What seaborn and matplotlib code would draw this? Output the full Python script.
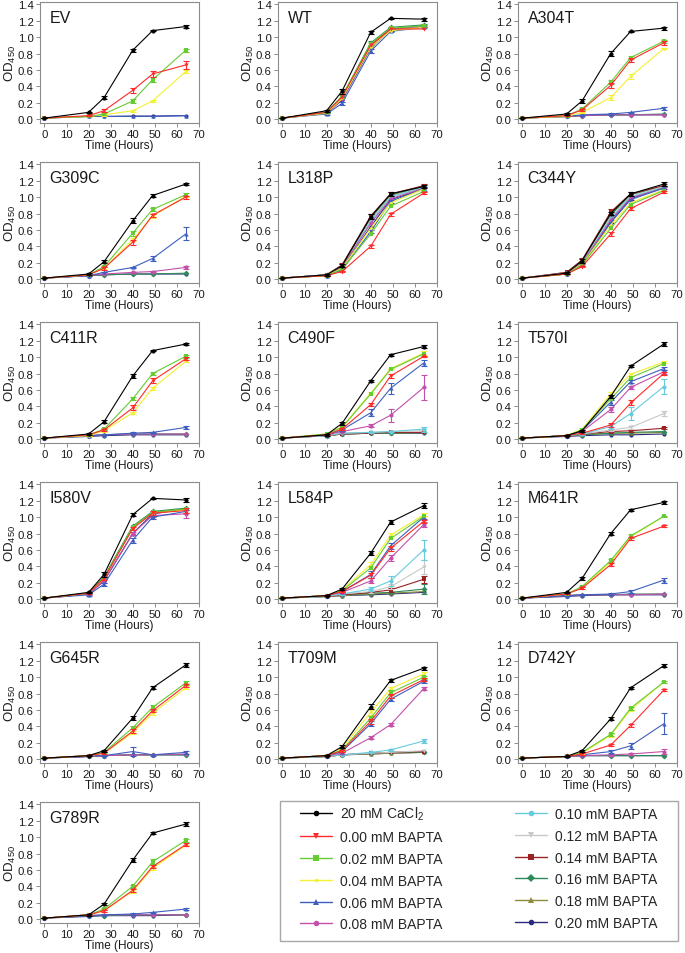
import matplotlib
matplotlib.use("Agg")
import matplotlib.pyplot as plt
from matplotlib.lines import Line2D
from matplotlib.patches import Rectangle
import pandas as pd
import seaborn as sns

# ---------------- data ----------------
time_h = [0, 20, 27, 40, 49, 64]

series_keys = ["Ca", "B00", "B02", "B04", "B06", "B08", "B10", "B12", "B14", "B16", "B18", "B20"]
series_labels = ["20 mM CaCl$_2$", "0.00 mM BAPTA", "0.02 mM BAPTA", "0.04 mM BAPTA",
                 "0.06 mM BAPTA", "0.08 mM BAPTA", "0.10 mM BAPTA", "0.12 mM BAPTA",
                 "0.14 mM BAPTA", "0.16 mM BAPTA", "0.18 mM BAPTA", "0.20 mM BAPTA"]
series_colors = ["#000000", "#ff2b2b", "#66cc33", "#f4f032", "#3f5fc0", "#c350aa",
                 "#66ccdd", "#c8c8c8", "#9b2323", "#2e8b57", "#8c8c3a", "#2a2a80"]
series_markers = ["o", "v", "s", ".", "^", "o", "o", "v", "s", "D", "^", "o"]

EV = {"Ca": [0.01, 0.08, 0.26, 0.84, 1.08, 1.13],
      "B00": [0.01, 0.04, 0.10, 0.35, 0.55, 0.66],
      "B02": [0.01, 0.03, 0.06, 0.22, 0.48, 0.84],
      "B04": [0.01, 0.03, 0.05, 0.10, 0.22, 0.58],
      "B06": [0.01, 0.03, 0.03, 0.03, 0.03, 0.04],
      "B20": [0.01, 0.03, 0.03, 0.035, 0.035, 0.04]}
EV_err = {"Ca": [0, 0.01, 0.02, 0.02, 0.01, 0.02], "B00": [0, 0.01, 0.02, 0.03, 0.04, 0.05],
          "B02": [0, 0, 0.01, 0.02, 0.03, 0.02], "B04": [0, 0, 0.01, 0.01, 0.01, 0.02]}

WT = {"Ca": [0.01, 0.10, 0.34, 1.06, 1.23, 1.22],
      "B00": [0.01, 0.08, 0.27, 0.90, 1.10, 1.10],
      "B02": [0.01, 0.08, 0.28, 0.92, 1.11, 1.14],
      "B04": [0.01, 0.07, 0.25, 0.88, 1.08, 1.12],
      "B06": [0.01, 0.06, 0.19, 0.83, 1.07, 1.12],
      "B08": [0.01, 0.07, 0.24, 0.89, 1.09, 1.13],
      "B16": [0.01, 0.08, 0.27, 0.93, 1.12, 1.15],
      "B18": [0.01, 0.08, 0.26, 0.91, 1.10, 1.14],
      "B20": [0.01, 0.07, 0.23, 0.87, 1.09, 1.13]}
WT_err = {"Ca": [0, 0.01, 0.03, 0.02, 0.01, 0.02], "B06": [0, 0.01, 0.02, 0.02, 0.01, 0.01],
          "B16": [0, 0.01, 0.02, 0.02, 0.01, 0.01], "B02": [0, 0.01, 0.02, 0.02, 0.01, 0.01]}

A304T = {"Ca": [0.01, 0.06, 0.22, 0.80, 1.07, 1.11],
         "B00": [0.01, 0.04, 0.11, 0.41, 0.72, 0.93],
         "B02": [0.01, 0.04, 0.12, 0.45, 0.75, 0.95],
         "B04": [0.01, 0.03, 0.08, 0.26, 0.52, 0.86],
         "B06": [0.01, 0.03, 0.05, 0.06, 0.08, 0.13],
         "B08": [0.01, 0.03, 0.04, 0.05, 0.05, 0.05],
         "B16": [0.01, 0.03, 0.04, 0.05, 0.05, 0.06],
         "B20": [0.01, 0.03, 0.04, 0.05, 0.05, 0.05]}
A304T_err = {"Ca": [0, 0.01, 0.02, 0.03, 0.01, 0.02], "B00": [0, 0, 0.01, 0.03, 0.02, 0.02],
             "B02": [0, 0, 0.01, 0.02, 0.02, 0.02], "B04": [0, 0, 0.01, 0.03, 0.03, 0.01],
             "B06": [0, 0, 0, 0.01, 0.01, 0.02]}

G309C = {"Ca": [0.01, 0.06, 0.21, 0.71, 1.02, 1.16],
         "B00": [0.01, 0.05, 0.13, 0.45, 0.78, 1.00],
         "B02": [0.01, 0.05, 0.15, 0.56, 0.85, 1.03],
         "B04": [0.01, 0.05, 0.13, 0.48, 0.77, 1.01],
         "B06": [0.01, 0.04, 0.08, 0.14, 0.25, 0.55],
         "B08": [0.01, 0.04, 0.06, 0.08, 0.09, 0.14],
         "B16": [0.01, 0.04, 0.05, 0.06, 0.06, 0.07],
         "B20": [0.01, 0.04, 0.05, 0.06, 0.06, 0.06]}
G309C_err = {"Ca": [0, 0.01, 0.02, 0.03, 0.02, 0.01], "B00": [0, 0, 0.02, 0.03, 0.02, 0.02],
             "B02": [0, 0, 0.01, 0.03, 0.02, 0.02], "B04": [0, 0, 0.01, 0.02, 0.02, 0.01],
             "B06": [0, 0, 0, 0.01, 0.03, 0.08], "B08": [0, 0, 0, 0.01, 0.01, 0.02]}

L318P = {"Ca": [0.01, 0.05, 0.16, 0.76, 1.04, 1.13],
         "B00": [0.01, 0.04, 0.09, 0.40, 0.79, 1.05],
         "B02": [0.01, 0.04, 0.12, 0.55, 0.89, 1.07],
         "B04": [0.01, 0.04, 0.13, 0.62, 0.93, 1.10],
         "B06": [0.01, 0.04, 0.11, 0.58, 0.95, 1.10],
         "B08": [0.01, 0.05, 0.14, 0.68, 0.98, 1.11],
         "B10": [0.01, 0.05, 0.15, 0.70, 1.00, 1.12],
         "B12": [0.01, 0.05, 0.15, 0.72, 1.01, 1.12],
         "B14": [0.01, 0.05, 0.17, 0.77, 1.04, 1.14],
         "B16": [0.01, 0.05, 0.16, 0.74, 1.02, 1.13],
         "B18": [0.01, 0.05, 0.17, 0.76, 1.03, 1.14],
         "B20": [0.01, 0.04, 0.13, 0.64, 0.97, 1.10]}
L318P_err = {"Ca": [0, 0.01, 0.02, 0.03, 0.02, 0.02], "B00": [0, 0, 0.01, 0.02, 0.02, 0.01],
             "B06": [0, 0, 0.01, 0.02, 0.02, 0.02], "B14": [0, 0, 0.02, 0.03, 0.02, 0.02]}

C344Y = {"Ca": [0.01, 0.07, 0.22, 0.80, 1.04, 1.16],
         "B00": [0.01, 0.06, 0.15, 0.55, 0.86, 1.06],
         "B02": [0.01, 0.06, 0.17, 0.62, 0.91, 1.08],
         "B04": [0.01, 0.06, 0.18, 0.66, 0.93, 1.09],
         "B06": [0.01, 0.06, 0.17, 0.69, 0.97, 1.11],
         "B08": [0.01, 0.07, 0.19, 0.72, 0.99, 1.11],
         "B10": [0.01, 0.07, 0.20, 0.74, 1.00, 1.12],
         "B12": [0.01, 0.07, 0.21, 0.76, 1.01, 1.13],
         "B14": [0.01, 0.08, 0.23, 0.82, 1.04, 1.14],
         "B16": [0.01, 0.07, 0.22, 0.78, 1.03, 1.13],
         "B18": [0.01, 0.08, 0.23, 0.80, 1.04, 1.14],
         "B20": [0.01, 0.06, 0.17, 0.70, 0.98, 1.12]}
C344Y_err = {"Ca": [0, 0.01, 0.02, 0.02, 0.02, 0.02], "B00": [0, 0, 0.01, 0.02, 0.02, 0.01],
             "B14": [0, 0, 0.02, 0.03, 0.02, 0.02], "B20": [0, 0, 0.01, 0.02, 0.02, 0.02]}

C411R = {"Ca": [0.01, 0.06, 0.21, 0.77, 1.08, 1.16],
         "B00": [0.01, 0.05, 0.11, 0.38, 0.71, 0.98],
         "B02": [0.01, 0.05, 0.12, 0.49, 0.80, 1.01],
         "B04": [0.01, 0.04, 0.10, 0.32, 0.62, 0.95],
         "B06": [0.01, 0.04, 0.05, 0.07, 0.08, 0.14],
         "B08": [0.01, 0.04, 0.05, 0.06, 0.06, 0.06],
         "B16": [0.01, 0.04, 0.05, 0.06, 0.06, 0.06],
         "B20": [0.01, 0.03, 0.04, 0.05, 0.05, 0.05]}
C411R_err = {"Ca": [0, 0.01, 0.02, 0.03, 0.01, 0.01], "B00": [0, 0, 0.01, 0.03, 0.03, 0.02],
             "B02": [0, 0, 0.01, 0.02, 0.02, 0.02], "B04": [0, 0, 0.01, 0.01, 0.02, 0.01],
             "B06": [0, 0, 0, 0.01, 0.01, 0.02]}

C490F = {"Ca": [0.01, 0.05, 0.19, 0.71, 1.03, 1.13],
         "B00": [0.01, 0.05, 0.12, 0.42, 0.77, 1.01],
         "B02": [0.01, 0.06, 0.14, 0.55, 0.85, 1.04],
         "B04": [0.01, 0.06, 0.15, 0.56, 0.86, 1.05],
         "B06": [0.01, 0.05, 0.11, 0.32, 0.62, 0.93],
         "B08": [0.01, 0.05, 0.09, 0.16, 0.29, 0.63],
         "B10": [0.01, 0.04, 0.07, 0.08, 0.09, 0.12],
         "B12": [0.01, 0.04, 0.07, 0.08, 0.09, 0.10],
         "B14": [0.01, 0.04, 0.06, 0.07, 0.08, 0.08],
         "B16": [0.01, 0.04, 0.06, 0.07, 0.07, 0.08],
         "B18": [0.01, 0.04, 0.06, 0.07, 0.07, 0.08],
         "B20": [0.01, 0.04, 0.06, 0.07, 0.07, 0.07]}
C490F_err = {"Ca": [0, 0.01, 0.02, 0.01, 0.01, 0.02], "B00": [0, 0, 0.01, 0.02, 0.02, 0.01],
             "B04": [0, 0, 0.01, 0.01, 0.01, 0.02], "B06": [0, 0, 0.01, 0.04, 0.07, 0.04],
             "B08": [0, 0, 0.01, 0.02, 0.08, 0.15], "B10": [0, 0, 0, 0.01, 0.01, 0.03]}

T570I = {"Ca": [0.01, 0.04, 0.10, 0.52, 0.89, 1.16],
         "B00": [0.01, 0.04, 0.07, 0.17, 0.44, 0.80],
         "B02": [0.01, 0.04, 0.11, 0.49, 0.75, 0.92],
         "B04": [0.01, 0.04, 0.12, 0.55, 0.79, 0.94],
         "B06": [0.01, 0.04, 0.10, 0.45, 0.70, 0.86],
         "B08": [0.01, 0.04, 0.09, 0.36, 0.63, 0.82],
         "B10": [0.01, 0.04, 0.06, 0.15, 0.31, 0.64],
         "B12": [0.01, 0.04, 0.06, 0.11, 0.14, 0.31],
         "B14": [0.01, 0.04, 0.06, 0.09, 0.10, 0.13],
         "B16": [0.01, 0.04, 0.05, 0.07, 0.08, 0.09],
         "B18": [0.01, 0.04, 0.05, 0.07, 0.07, 0.08],
         "B20": [0.01, 0.03, 0.04, 0.05, 0.05, 0.06]}
T570I_err = {"Ca": [0, 0.01, 0.01, 0.02, 0.01, 0.02], "B00": [0, 0, 0.01, 0.02, 0.03, 0.02],
             "B04": [0, 0, 0.01, 0.02, 0.02, 0.01], "B06": [0, 0, 0.01, 0.03, 0.02, 0.02],
             "B08": [0, 0, 0.01, 0.03, 0.02, 0.02], "B10": [0, 0, 0.01, 0.03, 0.08, 0.09],
             "B12": [0, 0, 0, 0.01, 0.02, 0.03], "B14": [0, 0, 0, 0.01, 0.01, 0.01]}

I580V = {"Ca": [0.01, 0.08, 0.30, 1.03, 1.23, 1.21],
         "B00": [0.01, 0.07, 0.25, 0.86, 1.05, 1.08],
         "B02": [0.01, 0.07, 0.26, 0.88, 1.06, 1.10],
         "B04": [0.01, 0.07, 0.25, 0.87, 1.05, 1.09],
         "B06": [0.01, 0.05, 0.18, 0.72, 1.00, 1.07],
         "B08": [0.01, 0.06, 0.22, 0.80, 1.02, 1.04],
         "B16": [0.01, 0.07, 0.27, 0.89, 1.07, 1.11],
         "B18": [0.01, 0.07, 0.26, 0.88, 1.06, 1.10],
         "B20": [0.01, 0.06, 0.22, 0.80, 1.04, 1.10]}
I580V_err = {"Ca": [0, 0.01, 0.03, 0.02, 0.01, 0.03], "B06": [0, 0.01, 0.02, 0.03, 0.02, 0.02],
             "B08": [0, 0.01, 0.02, 0.02, 0.02, 0.05], "B00": [0, 0.01, 0.02, 0.02, 0.02, 0.03]}

L584P = {"Ca": [0.01, 0.04, 0.12, 0.56, 0.94, 1.14],
         "B00": [0.01, 0.04, 0.09, 0.29, 0.62, 0.95],
         "B02": [0.01, 0.04, 0.10, 0.38, 0.74, 1.01],
         "B04": [0.01, 0.04, 0.11, 0.42, 0.78, 1.03],
         "B06": [0.01, 0.04, 0.09, 0.30, 0.65, 1.00],
         "B08": [0.01, 0.04, 0.08, 0.22, 0.50, 0.91],
         "B10": [0.01, 0.03, 0.06, 0.12, 0.22, 0.60],
         "B12": [0.01, 0.03, 0.06, 0.09, 0.15, 0.39],
         "B14": [0.01, 0.03, 0.05, 0.08, 0.11, 0.24],
         "B16": [0.01, 0.03, 0.05, 0.07, 0.08, 0.12],
         "B18": [0.01, 0.03, 0.04, 0.06, 0.07, 0.09],
         "B20": [0.01, 0.03, 0.04, 0.05, 0.06, 0.08]}
L584P_err = {"Ca": [0, 0.01, 0.01, 0.02, 0.02, 0.03], "B00": [0, 0, 0.01, 0.03, 0.03, 0.02],
             "B04": [0, 0, 0.01, 0.03, 0.03, 0.02], "B06": [0, 0, 0.01, 0.04, 0.04, 0.02],
             "B08": [0, 0, 0.01, 0.03, 0.04, 0.03], "B10": [0, 0, 0.01, 0.02, 0.06, 0.12],
             "B12": [0, 0, 0.01, 0.02, 0.03, 0.08], "B14": [0, 0, 0, 0.01, 0.02, 0.04],
             "B16": [0, 0, 0, 0.01, 0.01, 0.06]}

M641R = {"Ca": [0.01, 0.08, 0.25, 0.80, 1.09, 1.18],
         "B00": [0.01, 0.06, 0.13, 0.42, 0.74, 0.89],
         "B02": [0.01, 0.06, 0.15, 0.47, 0.77, 1.01],
         "B04": [0.01, 0.06, 0.14, 0.45, 0.76, 1.01],
         "B06": [0.01, 0.04, 0.05, 0.06, 0.09, 0.23],
         "B08": [0.01, 0.04, 0.05, 0.05, 0.05, 0.06],
         "B16": [0.01, 0.04, 0.05, 0.05, 0.06, 0.06],
         "B20": [0.01, 0.03, 0.04, 0.05, 0.05, 0.05]}
M641R_err = {"Ca": [0, 0.01, 0.02, 0.02, 0.01, 0.02], "B00": [0, 0, 0.01, 0.02, 0.02, 0.01],
             "B02": [0, 0, 0.01, 0.02, 0.02, 0.01], "B06": [0, 0, 0, 0.01, 0.02, 0.03]}

G645R = {"Ca": [0.01, 0.04, 0.10, 0.50, 0.87, 1.15],
         "B00": [0.01, 0.04, 0.07, 0.34, 0.59, 0.90],
         "B02": [0.01, 0.04, 0.08, 0.38, 0.63, 0.93],
         "B04": [0.01, 0.04, 0.07, 0.32, 0.56, 0.87],
         "B06": [0.01, 0.03, 0.04, 0.09, 0.05, 0.08],
         "B08": [0.01, 0.03, 0.04, 0.05, 0.05, 0.06],
         "B16": [0.01, 0.03, 0.04, 0.05, 0.05, 0.05],
         "B20": [0.01, 0.03, 0.04, 0.05, 0.05, 0.05]}
G645R_err = {"Ca": [0, 0.01, 0.01, 0.02, 0.02, 0.02], "B00": [0, 0, 0.01, 0.02, 0.02, 0.02],
             "B02": [0, 0, 0.01, 0.02, 0.03, 0.02], "B04": [0, 0, 0.01, 0.02, 0.02, 0.02],
             "B06": [0, 0, 0, 0.05, 0.01, 0.02]}

T709M = {"Ca": [0.01, 0.04, 0.15, 0.64, 0.96, 1.11],
         "B00": [0.01, 0.04, 0.10, 0.46, 0.77, 0.97],
         "B02": [0.01, 0.04, 0.11, 0.50, 0.81, 1.00],
         "B04": [0.01, 0.04, 0.13, 0.57, 0.86, 1.04],
         "B06": [0.01, 0.04, 0.09, 0.43, 0.73, 0.95],
         "B08": [0.01, 0.04, 0.07, 0.26, 0.42, 0.86],
         "B10": [0.01, 0.03, 0.05, 0.08, 0.11, 0.22],
         "B12": [0.01, 0.03, 0.05, 0.07, 0.08, 0.10],
         "B14": [0.01, 0.03, 0.05, 0.07, 0.08, 0.09],
         "B16": [0.01, 0.03, 0.05, 0.07, 0.08, 0.08],
         "B18": [0.01, 0.03, 0.05, 0.06, 0.07, 0.08],
         "B20": [0.01, 0.03, 0.05, 0.06, 0.07, 0.08]}
T709M_err = {"Ca": [0, 0.01, 0.02, 0.03, 0.02, 0.02], "B00": [0, 0, 0.01, 0.03, 0.03, 0.02],
             "B02": [0, 0, 0.01, 0.03, 0.03, 0.02], "B04": [0, 0, 0.01, 0.03, 0.02, 0.02],
             "B06": [0, 0, 0.01, 0.03, 0.02, 0.02], "B08": [0, 0, 0.01, 0.02, 0.02, 0.02],
             "B10": [0, 0, 0, 0.01, 0.01, 0.02]}

D742Y = {"Ca": [0.01, 0.03, 0.10, 0.49, 0.87, 1.14],
         "B00": [0.01, 0.03, 0.06, 0.17, 0.41, 0.84],
         "B02": [0.01, 0.03, 0.08, 0.30, 0.62, 0.94],
         "B04": [0.01, 0.03, 0.07, 0.29, 0.60, 0.94],
         "B06": [0.01, 0.03, 0.05, 0.09, 0.16, 0.43],
         "B08": [0.01, 0.03, 0.04, 0.05, 0.06, 0.09],
         "B16": [0.01, 0.03, 0.04, 0.04, 0.04, 0.04],
         "B20": [0.01, 0.03, 0.04, 0.04, 0.04, 0.04]}
D742Y_err = {"Ca": [0, 0.01, 0.01, 0.02, 0.01, 0.02], "B00": [0, 0, 0.01, 0.01, 0.02, 0.01],
             "B02": [0, 0, 0.01, 0.02, 0.02, 0.01], "B04": [0, 0, 0.01, 0.02, 0.02, 0.01],
             "B06": [0, 0, 0, 0.02, 0.04, 0.13], "B08": [0, 0, 0, 0.01, 0.01, 0.03]}

G789R = {"Ca": [0.01, 0.05, 0.18, 0.72, 1.05, 1.16],
         "B00": [0.01, 0.05, 0.10, 0.35, 0.64, 0.91],
         "B02": [0.01, 0.05, 0.12, 0.40, 0.70, 0.96],
         "B04": [0.01, 0.05, 0.10, 0.34, 0.62, 0.90],
         "B06": [0.01, 0.04, 0.05, 0.06, 0.08, 0.12],
         "B08": [0.01, 0.04, 0.05, 0.05, 0.05, 0.05],
         "B16": [0.01, 0.04, 0.04, 0.05, 0.05, 0.05],
         "B20": [0.01, 0.03, 0.04, 0.04, 0.04, 0.05]}
G789R_err = {"Ca": [0, 0.01, 0.01, 0.02, 0.01, 0.02], "B00": [0, 0, 0.01, 0.02, 0.02, 0.02],
             "B02": [0, 0, 0.01, 0.02, 0.03, 0.02], "B04": [0, 0, 0.01, 0.02, 0.02, 0.01],
             "B06": [0, 0, 0, 0.01, 0.01, 0.01]}

panel_names = ["EV", "WT", "A304T", "G309C", "L318P", "C344Y", "C411R", "C490F", "T570I",
               "I580V", "L584P", "M641R", "G645R", "T709M", "D742Y", "G789R"]
panel_data = [EV, WT, A304T, G309C, L318P, C344Y, C411R, C490F, T570I,
              I580V, L584P, M641R, G645R, T709M, D742Y, G789R]
panel_errs = [EV_err, WT_err, A304T_err, G309C_err, L318P_err, C344Y_err, C411R_err, C490F_err,
              T570I_err, I580V_err, L584P_err, M641R_err, G645R_err, T709M_err, D742Y_err, G789R_err]

# ---------------- style ----------------
sns.set_theme(style="ticks")
plt.rcParams["font.family"] = ["Liberation Sans", "DejaVu Sans"]
plt.rcParams["mathtext.fontset"] = "custom"
plt.rcParams["mathtext.rm"] = "Liberation Sans"
plt.rcParams["mathtext.it"] = "Liberation Sans:italic"

color_of = dict(zip(series_keys, series_colors))
marker_of = dict(zip(series_keys, series_markers))

fig = plt.figure(figsize=(6.85, 9.54), dpi=100)

col_left = [40 / 685, 278 / 685, 518 / 685]
ax_w = 159 / 685
ax_h = 121 / 954
row_bottom = [1 - 124 / 954, 1 - 284 / 954, 1 - 444 / 954, 1 - 604 / 954, 1 - 764 / 954, 1 - 924 / 954]
spine_col = "#8c8c8c"
txt_col = "#1a1a1a"

for i, (name, data, errs) in enumerate(zip(panel_names, panel_data, panel_errs)):
    r, c = divmod(i, 3)
    ax = fig.add_axes([col_left[c], row_bottom[r], ax_w, ax_h])
    keys = [k for k in series_keys if k in data]
    rows = []
    for k in keys:
        for t, v in zip(time_h, data[k]):
            rows.append({"Time": t, "OD": v, "series": k})
    df = pd.DataFrame(rows)
    order = keys[1:][::-1] + keys[:1]
    for k in order:
        sub = df[df["series"] == k]
        ms = 4.0 if marker_of[k] == "." else 3.0
        z = 3 if k == "Ca" else 2
        sns.lineplot(data=sub, x="Time", y="OD", ax=ax, color=color_of[k], marker=marker_of[k],
                     markersize=ms, markeredgewidth=0, linewidth=0.8, legend=False, zorder=z)
        if k in errs:
            ax.errorbar(time_h, data[k], yerr=errs[k], fmt="none", ecolor=color_of[k],
                        elinewidth=0.8, capsize=2.5, capthick=0.8, zorder=z)
    ax.set_xlim(-2, 70)
    ax.set_ylim(-0.05, 1.43)
    ax.set_xticks([0, 10, 20, 30, 40, 50, 60, 70])
    yt = [0.0, 0.2, 0.4, 0.6, 0.8, 1.0, 1.2, 1.4]
    ax.set_yticks(yt)
    ax.set_yticklabels([f"{v:.1f}" for v in yt])
    ax.tick_params(axis="both", which="major", labelsize=8.2, length=3, width=0.7,
                   color=spine_col, direction="out", pad=1.5, labelcolor=txt_col)
    for sp in ax.spines.values():
        sp.set_color(spine_col)
        sp.set_linewidth(0.8)
        sp.set_visible(True)
    ax.set_xlabel("Time (Hours)", fontsize=8.5, labelpad=0, color=txt_col)
    ax.set_ylabel("OD$_{450}$", fontsize=9.5, labelpad=0, color=txt_col)
    ax.text(0.06, 0.93, name, transform=ax.transAxes, fontsize=11.5, ha="left", va="top",
            color=txt_col)
    ax.set_facecolor("white")

# legend frame
fig.patches.append(Rectangle((280 / 685, 12 / 954), 398 / 685, 140 / 954,
                             transform=fig.transFigure, fill=False,
                             edgecolor="#a8a8a8", linewidth=1.0))
handles = [Line2D([0], [0], color=color_of[k], marker=marker_of[k],
                  markersize=5 if marker_of[k] == "." else 4, markeredgewidth=0, linewidth=1.0)
           for k in series_keys]
fig.legend(handles, series_labels, ncol=2, loc="upper left",
           bbox_to_anchor=(300 / 685, 1 - 806 / 954),
           frameon=False, fontsize=10, handlelength=2.3, handletextpad=0.6,
           labelspacing=0.56, borderaxespad=0, borderpad=0, columnspacing=5.2)

fig.savefig("out.png", dpi=100, facecolor="white")
